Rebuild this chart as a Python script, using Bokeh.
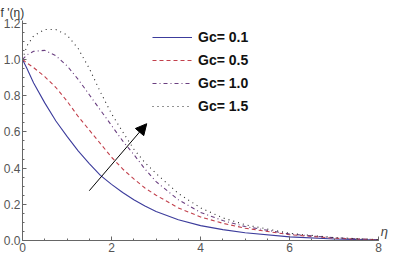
from bokeh.plotting import figure
from bokeh.models import Range1d, Legend, LegendItem, Arrow, NormalHead, Label, FixedTicker, CustomJSTickFormatter
from bokeh.embed import file_html
from bokeh.resources import INLINE

eta = [0, 0.1, 0.25, 0.5, 0.75, 1.0, 1.25, 1.5, 1.75, 2.0, 2.25, 2.5, 2.75, 3.0, 3.5, 4.0, 4.5, 5.0, 6.0, 7.0, 8.0]
gc_01 = [1.0, 0.95, 0.87, 0.76, 0.66, 0.575, 0.495, 0.425, 0.36, 0.31, 0.265, 0.225, 0.19, 0.16, 0.115, 0.082, 0.06, 0.043, 0.02, 0.008, 0.002]
gc_05 = [1.0, 0.98, 0.955, 0.905, 0.845, 0.77, 0.685, 0.61, 0.535, 0.46, 0.395, 0.34, 0.29, 0.25, 0.18, 0.13, 0.095, 0.068, 0.032, 0.013, 0.004]
gc_10 = [1.0, 1.025, 1.045, 1.05, 1.02, 0.965, 0.89, 0.805, 0.72, 0.635, 0.55, 0.475, 0.395, 0.325, 0.225, 0.155, 0.11, 0.077, 0.036, 0.015, 0.004]
gc_15 = [1.0, 1.075, 1.13, 1.165, 1.165, 1.135, 1.06, 0.95, 0.82, 0.70, 0.60, 0.505, 0.43, 0.37, 0.26, 0.18, 0.125, 0.087, 0.04, 0.016, 0.005]
labels = ["Gc= 0.1", "Gc= 0.5", "Gc= 1.0", "Gc= 1.5"]
x_ticks = [0, 2, 4, 6, 8]
y_ticks = [0.0, 0.2, 0.4, 0.6, 0.8, 1.0, 1.2]

p = figure(width=392, height=254, output_backend="svg", toolbar_location=None,
           x_range=Range1d(0, 8.22), y_range=Range1d(0, 1.215),
           min_border_left=18, min_border_right=4, min_border_top=20, min_border_bottom=14)
p.outline_line_color = None
p.grid.visible = False
p.background_fill_color = "white"

p.title.text = "f '(η)"
p.title.align = "left"
p.title.offset = -22
p.title.text_font = "Liberation Sans"
p.title.text_font_size = "12px"
p.title.text_font_style = "normal"
p.title.text_color = "#333333"
p.title.standoff = 2

for ax in (p.xaxis, p.yaxis):
    ax.axis_line_color = "#666666"
    ax.major_tick_line_color = "#666666"
    ax.minor_tick_line_color = "#666666"
    ax.major_tick_in = 4
    ax.major_tick_out = 0
    ax.minor_tick_in = 2
    ax.minor_tick_out = 0
    ax.major_label_text_font = "Liberation Sans"
    ax.major_label_text_font_size = "12px"
    ax.major_label_text_color = "#555555"
    ax.major_label_standoff = 2
p.xaxis.bounds = (0, 8)
p.xaxis.ticker = FixedTicker(ticks=x_ticks, minor_ticks=[i * 0.5 for i in range(17)])
p.yaxis.ticker = FixedTicker(ticks=y_ticks, minor_ticks=[i * 0.05 for i in range(25)])
p.yaxis.formatter = CustomJSTickFormatter(code="return tick.toFixed(1);")

r1 = p.line(eta, gc_01, line_color="#3c3c9c", line_width=1.1)
r2 = p.line(eta, gc_05, line_color="#c2404c", line_width=1.1, line_dash="4 3")
r3 = p.line(eta, gc_10, line_color="#6a3f80", line_width=1.1, line_dash="4 3 1 3")
r4 = p.line(eta, gc_15, line_color="#2a2a2a", line_width=1.1, line_dash="1 4")

legend = Legend(items=[LegendItem(label=labels[i], renderers=[r]) for i, r in enumerate([r1, r2, r3, r4])],
                location=(130, 124), orientation="vertical",
                glyph_width=40, glyph_height=20, label_height=20, label_standoff=6,
                spacing=3, padding=0, margin=0,
                border_line_color=None, background_fill_alpha=0,
                label_text_font="Liberation Sans", label_text_font_style="bold",
                label_text_font_size="14px", label_text_color="#111111")
p.add_layout(legend)

p.add_layout(Arrow(end=NormalHead(size=11, fill_color="black", line_color="black"),
                   x_start=1.5, y_start=0.275, x_end=2.79, y_end=0.645,
                   line_color="black", line_width=1))

p.add_layout(Label(x=8, y=0, x_offset=2, y_offset=2, text="η", text_font="Liberation Sans",
                   text_font_size="13px", text_font_style="italic", text_color="#444444",
                   text_baseline="bottom"))

open("out.html", "w").write(file_html(p, INLINE))
